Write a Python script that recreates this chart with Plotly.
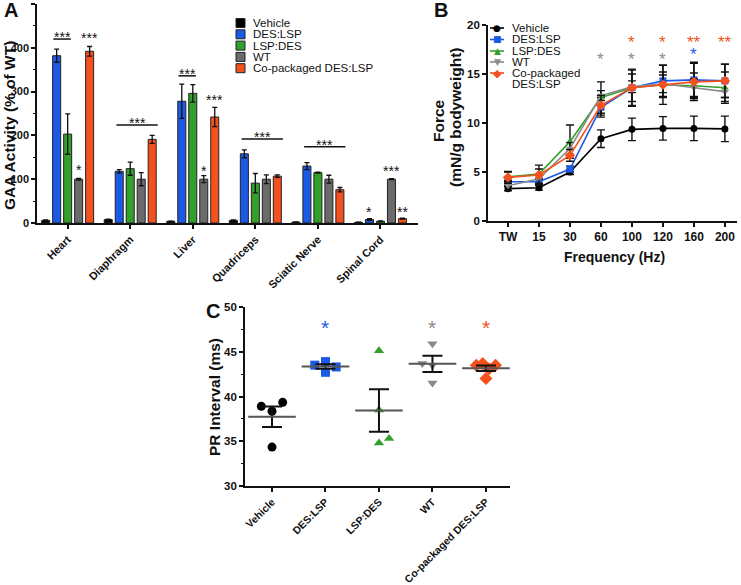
import numpy as np
import plotly.graph_objects as go

W, H = 741, 585
FONT = "Liberation Sans, Arial, Helvetica, sans-serif"

# ---------------- data ----------------
groups = ["Vehicle", "DES:LSP", "LSP:DES", "WT", "Co-packaged DES:LSP"]
bar_colors = ["#000000", "#1b5ae6", "#33a02c", "#6b6b6b", "#f4511e"]
line_colors = ["#000000", "#1b5ae6", "#33a02c", "#8a8a8a", "#f4511e"]

# Panel A: GAA activity (% of WT)
organs = ["Heart", "Diaphragm", "Liver", "Quadriceps", "Sciatic Nerve", "Spinal Cord"]
gaa_vehicle = [6, 8, 4, 6, 2, 1.5]
gaa_vehicle_err = [1, 1, 0.5, 1, 0.3, 0.3]
gaa_des_lsp = [382, 118, 278, 158, 130, 8]
gaa_des_lsp_err = [15, 4, 39, 9, 8, 2]
gaa_lsp_des = [203, 124, 296, 91, 115, 4]
gaa_lsp_des_err = [46, 15, 20, 22, 1, 1]
gaa_wt = [100, 100, 100, 100, 100, 100]
gaa_wt_err = [2, 15, 8, 10, 9, 1]
gaa_copack = [392, 191, 242, 107, 76, 10]
gaa_copack_err = [11, 9, 22, 3, 5, 1]

# Panel B: force-frequency
freqs = ["TW", "15", "30", "60", "100", "120", "160", "200"]
force_vehicle = [3.3, 3.4, 5.0, 8.4, 9.35, 9.45, 9.45, 9.4]
force_vehicle_err = [0.2, 0.25, 0.25, 0.9, 1.15, 1.2, 1.25, 1.3]
force_des_lsp = [4.0, 4.0, 5.3, 11.6, 13.6, 14.3, 14.4, 14.3]
force_des_lsp_err = [0.35, 0.3, 0.3, 1.0, 1.9, 1.6, 1.8, 1.7]
force_lsp_des = [4.5, 4.8, 8.1, 12.6, 13.6, 13.9, 13.8, 13.6]
force_lsp_des_err = [0.5, 0.5, 1.7, 1.6, 1.4, 1.3, 1.3, 1.6]
force_wt = [3.6, 4.3, 7.4, 12.8, 13.7, 14.0, 13.6, 13.2]
force_wt_err = [0.5, 0.45, 0.6, 0.5, 0.6, 0.9, 0.9, 1.0]
force_copack = [4.45, 4.7, 6.7, 11.8, 13.6, 13.9, 14.2, 14.3]
force_copack_err = [0.6, 1.0, 0.6, 1.0, 1.8, 2.0, 1.9, 1.7]

# Panel C: PR interval (ms), individual animals
pr_vehicle = [38.9, 38.35, 39.35, 34.35]
pr_des_lsp = [43.5, 43.9, 43.3, 42.7]
pr_lsp_des = [45.1, 38.5, 34.8, 35.3]
pr_wt = [45.9, 43.7, 43.5, 41.5]
pr_copack = [43.5, 43.7, 43.5, 42.0, 43.1]
# horizontal scatter offsets of overlapping points (category units)
pr_vehicle_jit = [-0.2, 0.0, 0.2, 0.0]
pr_des_lsp_jit = [-0.2, 0.0, 0.2, 0.0]
pr_lsp_des_jit = [0.0, 0.0, 0.0, 0.19]
pr_wt_jit = [0.0, -0.19, 0.0, 0.0]
pr_copack_jit = [-0.18, -0.06, 0.18, 0.0, 0.06]

# ---------------- helpers ----------------
def px(x):
    return x / W

def py(y):
    return 1 - y / H

fig = go.Figure()

# ---------------- Panel A ----------------
gaa = [gaa_vehicle, gaa_des_lsp, gaa_lsp_des, gaa_wt, gaa_copack]
gaa_err = [gaa_vehicle_err, gaa_des_lsp_err, gaa_lsp_des_err, gaa_wt_err, gaa_copack_err]
org_idx = np.arange(len(organs))
for g, vals, err, col in zip(groups, gaa, gaa_err, bar_colors):
    fig.add_trace(go.Bar(
        x=org_idx, y=vals, name=g, xaxis="x", yaxis="y", showlegend=False,
        marker=dict(color=col, line=dict(color="#222222", width=1)),
        error_y=dict(type="data", array=err, color="#111111", thickness=1.3, width=2.5),
    ))

# ---------------- Panel B ----------------
force = [force_vehicle, force_des_lsp, force_lsp_des, force_wt, force_copack]
force_err = [force_vehicle_err, force_des_lsp_err, force_lsp_des_err, force_wt_err, force_copack_err]
symbols = ["circle", "square", "triangle-up", "triangle-down", "diamond"]
msizes = [7, 7, 7, 7, 8]
for g, vals, err, col, sym, ms in zip(groups, force, force_err, line_colors, symbols, msizes):
    fig.add_trace(go.Scatter(
        x=freqs, y=vals, name=g, xaxis="x2", yaxis="y2", showlegend=False,
        mode="lines+markers",
        line=dict(color=col, width=1.6),
        marker=dict(symbol=sym, size=ms, color=col),
        error_y=dict(type="data", array=err, color="#111111", thickness=1.4, width=4),
    ))

# ---------------- Panel C ----------------
pr = [pr_vehicle, pr_des_lsp, pr_lsp_des, pr_wt, pr_copack]
pr_jit = [pr_vehicle_jit, pr_des_lsp_jit, pr_lsp_des_jit, pr_wt_jit, pr_copack_jit]
csizes = [9, 9, 9, 9, 10]
for i, (g, vals, jit, col, sym, ms) in enumerate(zip(groups, pr, pr_jit, line_colors, symbols, csizes)):
    fig.add_trace(go.Scatter(
        x=[i + j for j in jit], y=vals, xaxis="x3", yaxis="y3", mode="markers",
        showlegend=False, name=g,
        marker=dict(symbol=sym, size=ms, color=col),
    ))
means = [float(np.mean(v)) for v in pr]
sems = [float(np.std(v, ddof=1) / np.sqrt(len(v))) for v in pr]
fig.add_trace(go.Scatter(
    x=list(range(len(groups))), y=means, xaxis="x3", yaxis="y3", mode="markers",
    showlegend=False, name="mean ± SEM",
    marker=dict(symbol="line-ew", size=34, color="#555555", line=dict(color="#555555", width=2)),
    error_y=dict(type="data", array=sems, color="#111111", thickness=2, width=10),
))

# ---------------- annotations ----------------
ann = []
shapes = []

def text(x, y, t, size, color="#111", bold=False, xanchor="center", yanchor="middle",
         xref="paper", yref="paper", angle=0, yshift=0):
    ann.append(dict(x=x, y=y, xref=xref, yref=yref, text=f"<b>{t}</b>" if bold else t,
                    showarrow=False, xanchor=xanchor, yanchor=yanchor, textangle=angle,
                    yshift=yshift, font=dict(family=FONT, size=size, color=color)))

def star(x, y, t, size, color, xref, yref, lift=0):
    text(x, y, t, size, color, xref=xref, yref=yref, yshift=lift - 0.23 * size)

# Panel A significance
slot = 0.1757
off = {g: (k - 2) * slot for k, g in enumerate(groups)}
pair_span = (-0.23, 0.05)
wide_span = (-0.22, 0.44)
brackets = [(0, pair_span, 420), (1, wide_span, 224), (2, pair_span, 336),
            (3, wide_span, 192), (4, wide_span, 174)]
for oi, (a, b), yv in brackets:
    shapes.append(dict(type="line", xref="x", yref="y", x0=oi + a, x1=oi + b, y0=yv, y1=yv,
                       line=dict(color="#111", width=1.5)))
    star(oi + (a + b) / 2, yv, "***", 14, "#111", "x", "y", lift=5)
singles = [(0, "Co-packaged DES:LSP", 429, "***"), (0, "WT", 128, "*"),
           (2, "WT", 126, "*"), (2, "Co-packaged DES:LSP", 288, "***"),
           (5, "DES:LSP", 32, "*"), (5, "WT", 126, "***"), (5, "Co-packaged DES:LSP", 32, "**")]
for oi, g, yv, t in singles:
    star(oi + off[g], yv, t, 14, "#111", "x", "y")

# Panel B significance
bstars = [(4, 18.6, "*", line_colors[4]), (5, 18.6, "*", line_colors[4]),
          (6, 18.6, "**", line_colors[4]), (7, 18.6, "**", line_colors[4]),
          (3, 16.9, "*", line_colors[3]), (4, 16.9, "*", line_colors[3]),
          (5, 16.9, "*", line_colors[3]), (6, 17.4, "*", line_colors[1])]
for xi, yv, t, c in bstars:
    star(xi, yv, t, 17, c, "x2", "y2")

# Panel C significance
for gi in (1, 3, 4):
    star(gi, 48.2, "*", 21, line_colors[gi], "x3", "y3")

# panel letters
text(px(2), py(10), "A", 20, "#111", bold=True, xanchor="left")
text(px(432), py(10), "B", 20, "#111", bold=True, xanchor="left")
text(px(204), py(311), "C", 20, "#111", bold=True, xanchor="left")

# axis titles
text(px(9), py(126), "GAA Activity (% of WT)", 15.5, "#111", bold=True, angle=-90)
text(px(439), py(121), "Force", 15.5, "#111", bold=True, angle=-90)
text(px(456), py(117), "(mN/g bodyweight)", 15.5, "#111", bold=True, angle=-90)
text(px(614), py(257), "Frequency (Hz)", 14, "#111", bold=True)
text(px(214), py(397), "PR Interval (ms)", 15.5, "#111", bold=True, angle=-90)

# legend A (bar swatches)
rowsA = [23, 34.3, 45.6, 56.9, 68.2]
for g, c, r in zip(groups, bar_colors, rowsA):
    shapes.append(dict(type="rect", xref="paper", yref="paper", x0=px(236), x1=px(245),
                       y0=py(r + 4.5), y1=py(r - 4.5), fillcolor=c,
                       line=dict(color="#222", width=1)))
    text(px(250.5), py(r), g, 11.5, "#111", xanchor="left")

# legend B (line + marker)
glyphs = ["\u25CF", "\u25A0", "\u25B2", "\u25BC", "\u25C6"]
gsizes = [9, 9, 9, 9, 11]
rowsB = [28, 39.5, 51, 62, 73]
labelsB = ["Vehicle", "DES:LSP", "LSP:DES", "WT", "Co-packaged"]
for c, r, gl, gs, lab in zip(line_colors, rowsB, glyphs, gsizes, labelsB):
    shapes.append(dict(type="line", xref="paper", yref="paper", x0=px(490), x1=px(504),
                       y0=py(r), y1=py(r), line=dict(color=c, width=1.6)))
    ann.append(dict(x=px(497), y=py(r), xref="paper", yref="paper", text=gl, showarrow=False,
                    xanchor="center", yanchor="middle",
                    font=dict(family="DejaVu Sans", size=gs, color=c)))
    text(px(510), py(r), lab, 11.5, "#111", xanchor="left")
text(px(510), py(84.5), "DES:LSP", 11.5, "#111", xanchor="left")

# ---------------- layout ----------------
axis_common = dict(showline=True, linecolor="#111", linewidth=1.6, ticks="outside",
                   tickcolor="#111", tickwidth=1.5, ticklen=4, showgrid=False,
                   zeroline=False, automargin=False)
tickfont = lambda s: dict(family=FONT, size=s, color="#111")

fig.update_layout(
    width=W, height=H, margin=dict(l=0, r=0, t=0, b=0),
    paper_bgcolor="white", plot_bgcolor="white",
    barmode="group", bargap=0.122, bargroupgap=0.27,
    font=dict(family=FONT, color="#111"),
    showlegend=False,
    xaxis=dict(axis_common, domain=[px(37), px(418)], range=[-0.49, 5.6], anchor="y",
               tickvals=list(org_idx), ticktext=[f"<b>{o}</b>" for o in organs],
               tickangle=-45, tickfont=tickfont(11)),
    yaxis=dict(axis_common, domain=[py(223), py(4)], range=[0, 500], anchor="x",
               dtick=100, tickfont=tickfont(11), tickprefix="<b>", ticksuffix="</b>",
               minor=dict(dtick=50, ticks="outside", ticklen=2.5, tickwidth=1.2, tickcolor="#111")),
    xaxis2=dict(axis_common, domain=[px(488), px(737)], type="category",
                range=[-0.645, 7.39], anchor="y2", tickfont=tickfont(12),
                tickprefix="<b>", ticksuffix="</b>"),
    yaxis2=dict(axis_common, domain=[py(221), py(25)], range=[0, 20], anchor="x2",
                dtick=5, tickfont=tickfont(11.5), tickprefix="<b>", ticksuffix="</b>"),
    xaxis3=dict(axis_common, domain=[px(245), px(510)], range=[-0.505, 4.45], anchor="y3",
                tickvals=list(range(len(groups))), ticktext=[f"<b>{g}</b>" for g in groups],
                tickangle=-45, tickfont=tickfont(10.5)),
    yaxis3=dict(axis_common, domain=[py(486), py(307)], range=[30, 50], anchor="x3",
                dtick=5, tickfont=tickfont(11.5), tickprefix="<b>", ticksuffix="</b>",
                minor=dict(dtick=2.5, ticks="outside", ticklen=2.5, tickwidth=1.2, tickcolor="#111")),
    annotations=ann,
    shapes=shapes,
)

fig.write_html("out.html", config={"displayModeBar": False},
               post_script="document.body.style.margin='0px';")
